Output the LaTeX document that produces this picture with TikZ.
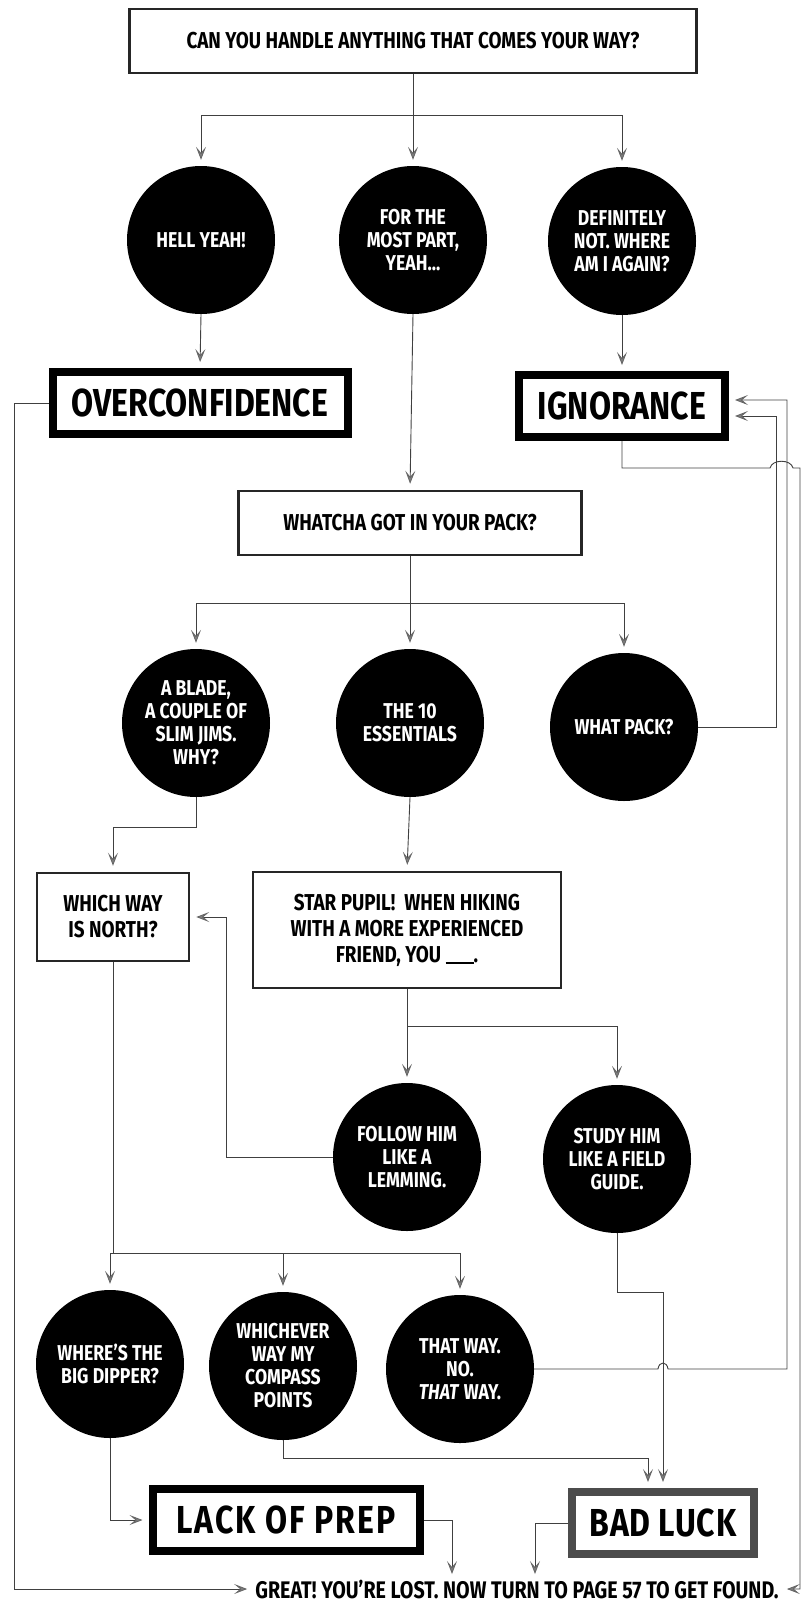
\documentclass[tikz,border=0pt]{standalone}
\usepackage{fontspec}
\setmainfont{Fira Sans}[FakeStretch=0.82]
\usetikzlibrary{arrows.meta}

\begin{document}
\begin{tikzpicture}[x=1pt,y=1pt,yscale=-1,
  link/.style={draw=black!75, line width=0.9pt},
  tip/.style={-{Stealth[length=13pt,width=10pt,inset=6pt,fill=black!50,color=black!60]}, shorten >=6pt},
  quest/.style={draw=black!85, line width=2.5pt, fill=white, inner sep=0pt, align=center, font=\bfseries\fontsize{23}{26}\selectfont},
  answer/.style={draw=black, line width=8pt, fill=white, inner sep=0pt, minimum height=62pt, font=\bfseries\fontsize{39}{40}\selectfont},
  blob/.style={circle, fill=black, minimum size=148pt, inner sep=0pt, text=white, align=center, font=\bfseries\fontsize{21.5}{23}\selectfont}]
\useasboundingbox (0,0) rectangle (811,1604);

%Shapes: question boxes
\node [quest, minimum width=567pt, minimum height=64pt] (start) at (413,41) {CAN YOU HANDLE ANYTHING THAT COMES YOUR WAY?};
\node [quest, minimum width=343pt, minimum height=64pt] (pack) at (410,523) {WHATCHA GOT IN YOUR PACK?};
\node [quest, minimum width=152pt, minimum height=88pt] (north) at (113,917) {WHICH WAY\\IS NORTH?};
\node [quest, minimum width=308pt, minimum height=116pt] (star) at (407,930) {STAR PUPIL!\ \ WHEN HIKING\\WITH A MORE EXPERIENCED\\FRIEND, YOU \rule[-2pt]{28pt}{2pt}.};

%Shapes: circles
\node [blob] (hell) at (201,240) {HELL YEAH!};
\node [blob] (most) at (413,240) {FOR THE\\MOST PART,\\YEAH...};
\node [blob] (notsure) at (622,241) {DEFINITELY\\NOT. WHERE\\AM I AGAIN?};
\node [blob] (blade) at (196,723) {A BLADE,\\A COUPLE OF\\SLIM JIMS.\\WHY?};
\node [blob] (ten) at (410,723) {THE 10\\ESSENTIALS};
\node [blob] (whatpack) at (624,727) {WHAT PACK?};
\node [blob] (follow) at (407,1157) {FOLLOW HIM\\LIKE A\\LEMMING.};
\node [blob] (study) at (617,1159) {STUDY HIM\\LIKE A FIELD\\GUIDE.};
\node [blob] (dipper) at (110,1364) {WHERE'S THE\\BIG DIPPER?};
\node [blob] (compass) at (283,1366) {WHICHEVER\\WAY MY\\COMPASS\\POINTS};
\node [blob] (thatway) at (460,1369) {THAT WAY.\\NO.\\\textit{THAT} WAY.};

%Shapes: outcome boxes
\node [answer, minimum width=295pt] (overconf) at (200,403) {OVERCONFIDENCE};
\node [answer, minimum width=206pt] (ignor) at (622,406) {IGNORANCE};
\node [answer, minimum width=267pt] (lackprep) at (286,1520) {\addfontfeature{LetterSpace=5}LACK OF PREP};
\node [answer, draw=black!70, minimum width=182pt] (badluck) at (663,1523) {\addfontfeature{LetterSpace=2}BAD LUCK};

% Text Node
\node [inner sep=2pt, font=\bfseries\fontsize{24}{24}\selectfont] (great) at (517,1589) {GREAT! YOU'RE LOST. NOW TURN TO PAGE 57 TO GET FOUND.};

\coordinate (fork1) at (413,115);
\coordinate (fork2) at (410,603);
\coordinate (fork3) at (407,1026);
\coordinate (fork4) at (113,1253);
\coordinate (intoL) at (452,1580);
\coordinate (intoB) at (535,1580);

%Straight Lines
\draw [link,tip] (start.south) -- (most.north);
\draw [link,tip] (fork1) -| (hell.north);
\draw [link,tip] (fork1) -| (notsure.north);
\draw [link,tip] (hell.south) -- (overconf.north);
\draw [link,tip] (notsure.south) -- (ignor.north);
\draw [link,tip] (most.south) -- (pack.north);

\draw [link,tip] (pack.south) -- (ten.north);
\draw [link,tip] (fork2) -| (blade.north);
\draw [link,tip] (fork2) -| (whatpack.north);
\draw [link,tip] (blade.south) |- (113,827) -- (north.north);
\draw [link,tip] (ten.south) -- (star.north);

\draw [link,tip] (star.south) -- (follow.north);
\draw [link,tip] (fork3) -| (study.north);
\draw [link,tip] (follow.west) -| (226,917) -- (north.east);

\draw [link,tip] (north.south) -- (fork4) -| (dipper.north);
\draw [link,tip] (fork4) -| (compass.north);
\draw [link,tip] (fork4) -| (thatway.north);

\draw [link,tip] (dipper.south) |- (lackprep.west);
\draw [link,tip] (compass.south) |- (648,1458) -- ([xshift=-15pt]badluck.north);
\draw [link,tip] (study.south) |- (663,1292) -- (badluck.north);
\draw [link,tip] (lackprep.east) -| (intoL);
\draw [link,tip] (badluck.west) -| (intoB);

%Lines with hops, back up to IGNORANCE and down to the end
\draw [link,tip] (whatpack.east) -| (776,416) -- (ignor.east |- 0,416);
\draw [link,tip] (thatway.east) -- (658,1369) .. controls (659,1361) and (667,1361) .. (668,1369) -| (787,400) -- (ignor.east |- 0,400);
\draw [link,tip] (ignor.south) |- (770,468) .. controls (772,459) and (791,459) .. (793,468) -| (800,1589) -- (great.east);
\draw [link,tip] (overconf.west) -| (14,1589) -- (great.west);

\end{tikzpicture}
\end{document}
